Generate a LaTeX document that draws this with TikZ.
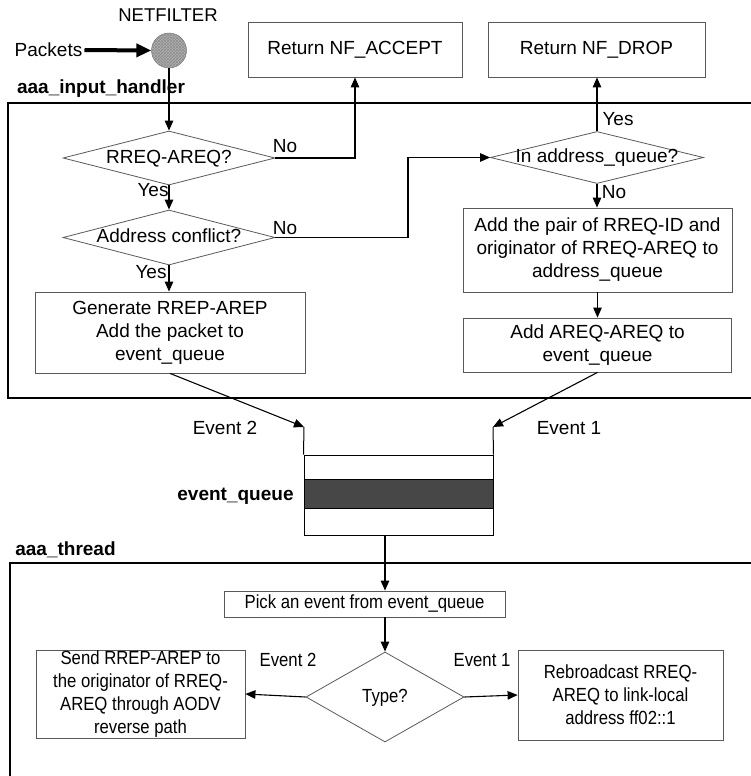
\documentclass[tikz,border=0pt]{standalone}
\usepackage{fontspec}
\setmainfont{Liberation Sans}
\newfontfamily\narrowsans[FakeStretch=0.88]{Liberation Sans}
\usetikzlibrary{arrows.meta,shapes.geometric,patterns}
\begin{document}
\begin{tikzpicture}[x=1pt,y=-1pt,
  base/.style={font=\fontsize{19}{23}\selectfont, align=center, inner sep=0pt},
  boldlbl/.style={base, font=\bfseries\fontsize{19}{23}\selectfont},
  lowlbl/.style={base, font=\narrowsans\fontsize{19}{23}\selectfont},
  box/.style={base, draw=black!65, line width=0.8pt},
  lbox/.style={box, font=\narrowsans\fontsize{19}{23}\selectfont},
  dec/.style={base, shape=diamond, draw=black!65, line width=0.8pt,
    aspect=4.2, text height=10pt, text depth=0pt},
  arr/.style={line width=1.1pt, -{Triangle[length=10pt,width=8.5pt]}},
  frame/.style={line width=1.6pt},
  wall/.style={line width=1pt},
]
\useasboundingbox (0,0) rectangle (751,776);

% ---- NETFILTER hook ----
\node[base, font=\fontsize{18.5}{22}\selectfont] (nftxt) at (168,15) {NETFILTER};
\node[circle, draw=black!60, fill=black!30, minimum size=35pt, inner sep=0pt,
      postaction={pattern=crosshatch, pattern color=black!45}] (net) at (169,50.5) {};
\node[base] (pk) at (48.5,50) {Packets};
\draw[line width=4pt, -{Triangle[length=15pt,width=13pt]}, shorten <=2pt] (pk.east) -- (net.west);

\node[box, minimum width=214pt, minimum height=55pt] (accept) at (355,49.5) {Return NF\_ACCEPT};
\node[box, minimum width=217pt, minimum height=55pt] (drop) at (596.5,49.5) {Return NF\_DROP};

% ---- aaa_input_handler ----
\node[boldlbl] (ihlbl) at (101,89) {aaa\_input\_handler};
\draw[frame] (751,103) -- (8,103) -- (8,398) -- (751,398);

\node[dec, minimum width=212pt, minimum height=54pt] (d1) at (169,158) {RREQ-AREQ?};
\node[dec, minimum width=212pt, minimum height=55pt] (d2) at (169,237.5) {Address conflict?};
\node[box, minimum width=270pt, minimum height=81pt] (gen) at (170,332.5)
  {Generate RREP-AREP\\Add the packet to\\event\_queue};
\node[dec, minimum width=213pt, minimum height=52pt] (d3) at (597,157.5) {In address\_queue?};
\node[box, minimum width=269pt, minimum height=84pt] (pair) at (597.5,250)
  {Add the pair of RREQ-ID and\\originator of RREQ-AREQ to\\address\_queue};
\node[box, minimum width=268pt, minimum height=54pt] (addev) at (597.5,345)
  {Add AREQ-AREQ to\\event\_queue};

\draw[arr] (net.south) -- (d1.north);
\draw[arr] (d1.south) -- (d2.north);
\draw[arr] (d2.south) -- (d2.south |- gen.north);
\draw[arr] (d1.east) -| (accept.south);
\coordinate (jog) at (408,157.5);
\draw[arr] (d2.east) -| (jog) -- (d3.west);
\draw[arr] (d3.north) -- (d3.north |- drop.south);
\draw[arr] (d3.south) -- (d3.south |- pair.north);
\draw[arr] (pair.south) -- (addev.north);

\node[base] (no1) at (285,146) {No};
\node[base] (yes1) at (153,190) {Yes};
\node[base] (no2) at (285,228) {No};
\node[base] (yes2) at (151,272) {Yes};
\node[base] (yes3) at (618,119) {Yes};
\node[base] (no3) at (614,192) {No};

% ---- event queue ----
\node[fill=black!72, minimum width=189pt, minimum height=28pt, inner sep=0pt] (band) at (398.5,494) {};
\draw[wall] (band.north west) -- (band.north east) (band.south west) -- (band.south east);
\node[draw, wall, minimum width=189pt, minimum height=80pt, inner sep=0pt] (queue) at (398.5,495) {};
\coordinate (qinL) at (304,427);
\coordinate (qinR) at (493,427);
\draw[wall] (qinL) -- (queue.north west);
\draw[wall] (qinR) -- (queue.north east);
\draw[arr] (gen.south) -- (qinL);
\draw[arr] (addev.south) -- (qinR);
\node[base] (ev2) at (225,428) {Event 2};
\node[base] (ev1) at (569,428) {Event 1};
\node[boldlbl] (eqlbl) at (235.5,496) {event\_queue};

% ---- aaa_thread ----
\node[boldlbl] (thlbl) at (65.5,550) {aaa\_thread};
\draw[frame] (751,563) -- (10,563) -- (10,776);

\node[lbox, minimum width=281pt, minimum height=26pt] (pick) at (364.5,604) {Pick an event from event\_queue};
\node[dec, font=\narrowsans\fontsize{19}{23}\selectfont, aspect=1.75,
      minimum width=158pt, minimum height=90pt] (type) at (385,697) {Type?};
\node[lbox, minimum width=209pt, minimum height=88pt] (send) at (140.5,694)
  {Send RREP-AREP to\\the originator of RREQ-\\AREQ through AODV\\reverse path};
\node[lbox, minimum width=205pt, minimum height=90pt] (rebro) at (620.5,695)
  {Rebroadcast RREQ-\\AREQ to link-local\\address ff02::1};

\draw[arr] (type.north |- queue.south) -- (type.north |- pick.north);
\draw[arr] (type.north |- pick.south) -- (type.north);
\draw[arr] (type.west) -- (send.east);
\draw[arr] (type.east) -- (rebro.west);
\node[lowlbl] (ev2b) at (288,660) {Event 2};
\node[lowlbl] (ev1b) at (482,660) {Event 1};
\end{tikzpicture}
\end{document}
